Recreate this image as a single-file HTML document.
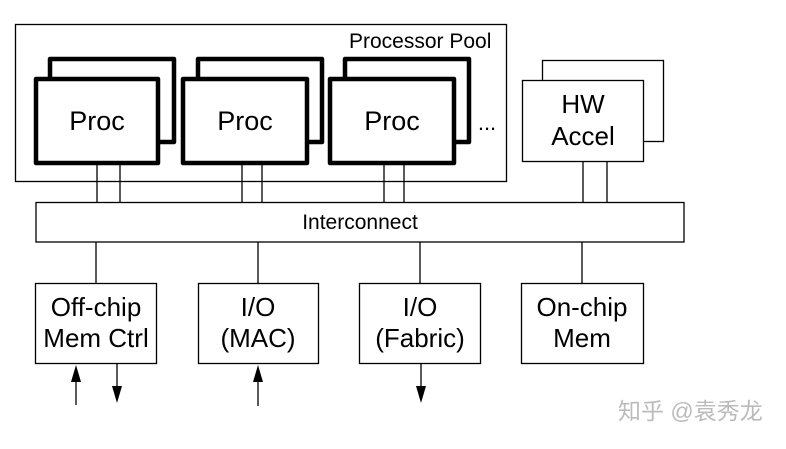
<!DOCTYPE html>
<html><head><style>
body{margin:0;background:#fff;}
svg text{font-family:"Liberation Sans",sans-serif;fill:#000;}
</style></head><body>
<svg width="786" height="444" viewBox="0 0 786 444" xmlns="http://www.w3.org/2000/svg">
<rect width="786" height="444" fill="#fff"/>
<g fill="none" stroke="#000" stroke-width="1.3">
<rect x="15.5" y="24.5" width="491" height="157"/>
<line x1="97" y1="164" x2="97" y2="202"/><line x1="120" y1="164" x2="120" y2="202"/>
<line x1="242" y1="164" x2="242" y2="202"/><line x1="262" y1="164" x2="262" y2="202"/>
<line x1="384" y1="164" x2="384" y2="202"/><line x1="404" y1="164" x2="404" y2="202"/>
<line x1="583" y1="161" x2="583" y2="202"/><line x1="607" y1="161" x2="607" y2="202"/>
<rect x="36" y="202.5" width="648" height="39.5"/>
<line x1="96" y1="242" x2="96" y2="283"/><line x1="258" y1="242" x2="258" y2="283"/>
<line x1="420" y1="242" x2="420" y2="283"/><line x1="582" y1="242" x2="582" y2="283"/>
<rect x="542.5" y="60.5" width="121" height="81"/>
<rect x="522.5" y="80.5" width="121" height="81" fill="#fff"/>
<rect x="35.5" y="283.5" width="121" height="80"/>
<rect x="198.5" y="283.5" width="120" height="80"/>
<rect x="359.5" y="283.5" width="121" height="80"/>
<rect x="521.5" y="283.5" width="122" height="80"/>
<line x1="76" y1="380" x2="76" y2="405"/><line x1="117" y1="364" x2="117" y2="388"/>
<line x1="258" y1="380" x2="258" y2="406"/><line x1="421" y1="364" x2="421" y2="388"/>
</g>
<g fill="#000">
<polygon points="76,365 71,382 81,382"/>
<polygon points="117,403 112,386 122,386"/>
<polygon points="258,365 253,382 263,382"/>
<polygon points="421,403 416,386 426,386"/>
</g>
<g fill="#fff" stroke="#000" stroke-width="4.5" stroke-linejoin="round">
<rect x="50" y="59" width="124" height="83"/>
<rect x="36" y="79" width="122" height="84"/>
<rect x="198" y="59" width="124" height="83"/>
<rect x="183" y="79" width="124" height="84"/>
<rect x="345" y="59" width="124" height="83"/>
<rect x="330" y="79" width="124" height="84"/>
</g>
<g font-size="27" text-anchor="middle">
<text x="97" y="130">Proc</text>
<text x="245" y="130">Proc</text>
<text x="392" y="130">Proc</text>
</g>
<g font-size="26" text-anchor="middle">
<text x="583" y="113">HW</text>
<text x="583" y="145">Accel</text>
<text x="96" y="316">Off-chip</text><text x="96" y="347">Mem Ctrl</text>
<text x="258" y="316">I/O</text><text x="258" y="347">(MAC)</text>
<text x="420" y="316">I/O</text><text x="420" y="347">(Fabric)</text>
<text x="582" y="316">On-chip</text><text x="582" y="347">Mem</text>
</g>
<text x="487" y="130" font-size="22" text-anchor="middle">...</text>
<text x="349" y="48" font-size="21">Processor Pool</text>
<text x="360" y="229" font-size="21" text-anchor="middle">Interconnect</text>
<text x="618" y="419" font-size="23" style="fill:#bbb;font-family:'Liberation Sans','Noto Sans CJK SC',sans-serif">知乎 @袁秀龙</text>
</svg>
</body></html>
